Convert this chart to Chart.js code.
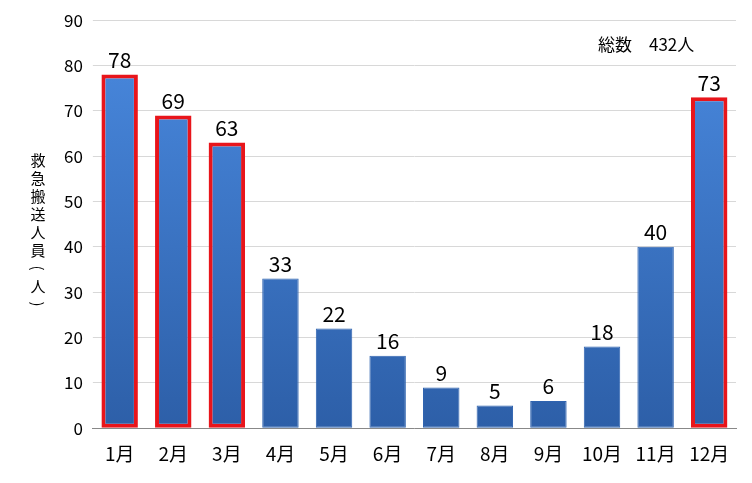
<!DOCTYPE html>
<html><head><meta charset="utf-8">
<script src="https://cdn.jsdelivr.net/npm/chart.js@4"></script>
<style>body{margin:0;background:#fff}#w{width:752px;height:483px;position:relative}</style>
</head><body><div id="w"><canvas id="c"></canvas></div>
<script>
const categories=['1月','2月','3月','4月','5月','6月','7月','8月','9月','10月','11月','12月'];
const values=[78,69,63,33,22,16,9,5,6,18,40,73];
const highlighted=[true,true,true,false,false,false,false,false,false,false,false,true];
const totalLabel='総数　432人';
const yTitle='救急搬送人員（人）';
const F='"Noto Sans CJK JP", sans-serif';
const labelPlugin={id:'lbl',afterDatasetsDraw(ch){const c=ch.ctx;const m=ch.getDatasetMeta(0);c.save();c.font='21px '+F;c.fillStyle='#000';c.textAlign='center';c.textBaseline='bottom';
m.data.forEach((b,i)=>c.fillText(values[i],b.x,b.y-4));
c.font='17px '+F;c.textAlign='left';c.textBaseline='middle';c.fillText(totalLabel,598,45);
c.font='15px '+F;c.textAlign='center';const chars=[...yTitle];chars.forEach((ch2,i)=>{const y=160+i*18;if('（）'.includes(ch2)){c.save();c.translate(38,y);c.rotate(Math.PI/2);c.fillText(ch2==='（'?'(':')',0,0);c.restore();}else c.fillText(ch2,38,y);});
c.restore();}};
new Chart(document.getElementById('c'),{type:'bar',
data:{labels:categories,datasets:[{data:values,
backgroundColor:(ctx)=>{const a=ctx.chart.chartArea;if(!a)return '#3a78cc';const g=ctx.chart.ctx.createLinearGradient(0,a.bottom,0,a.top);g.addColorStop(0,'#2d5fa8');g.addColorStop(1,'#4a8ae0');return g;},
borderColor:highlighted.map(h=>h?'#e8151b':'#2f63b0'),borderWidth:highlighted.map(h=>h?4:1),borderSkipped:false,
barPercentage:0.68,categoryPercentage:1}]},
options:{responsive:true,maintainAspectRatio:false,animation:false,
layout:{padding:{left:54,right:16,top:16,bottom:12}},
plugins:{legend:{display:false},tooltip:{enabled:false}},
scales:{x:{grid:{display:false},border:{color:'#888'},ticks:{color:'#000',font:{family:F,size:19},maxRotation:0,autoSkip:false,padding:6}},
y:{min:0,max:90,ticks:{stepSize:10,color:'#000',font:{family:F,size:17},padding:10},grid:{color:'#d8d8d8',tickLength:0},border:{display:false}}}},
plugins:[labelPlugin]});
</script></body></html>
